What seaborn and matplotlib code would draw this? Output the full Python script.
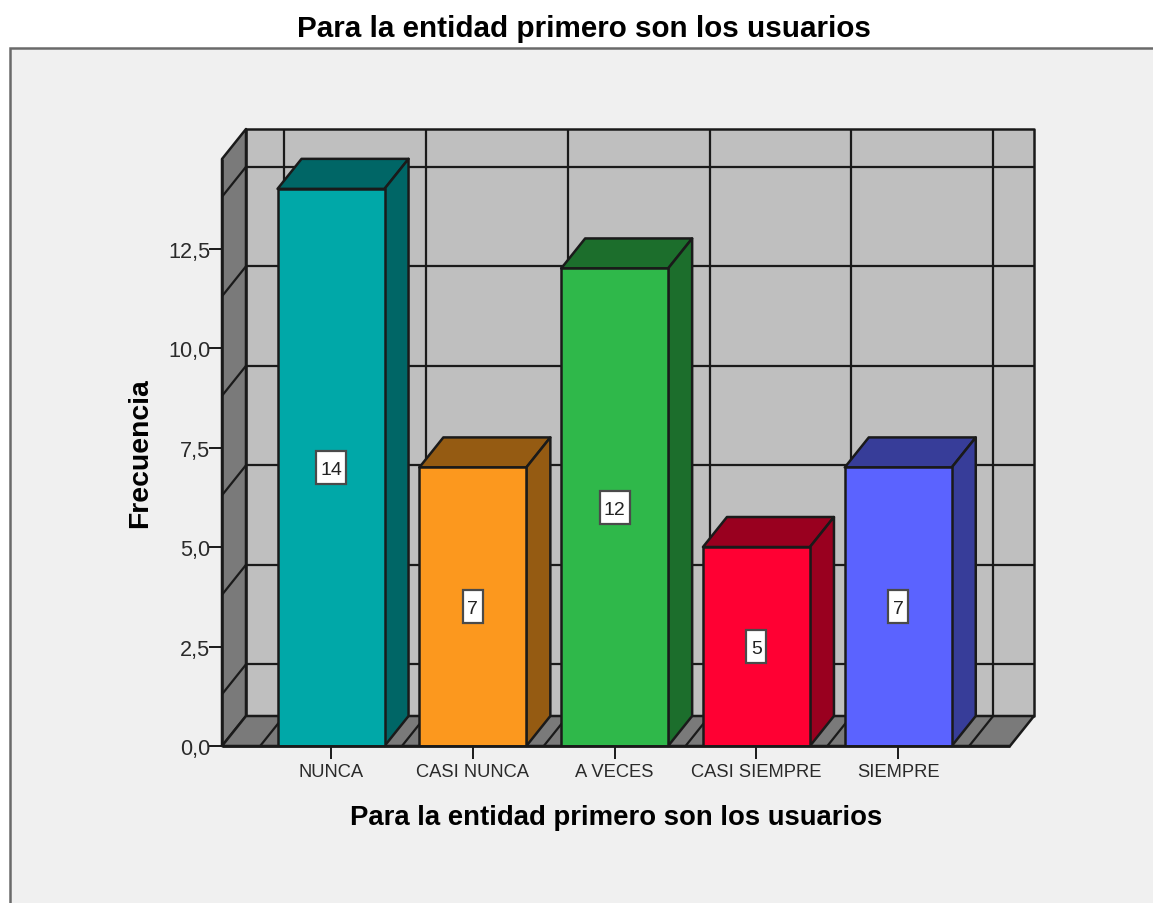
import matplotlib
matplotlib.use("Agg")
import matplotlib.pyplot as plt
from matplotlib.patches import Polygon, Rectangle
import pandas as pd
import seaborn as sns

categories = ["NUNCA", "CASI NUNCA", "A VECES", "CASI SIEMPRE", "SIEMPRE"]
frequencies = [14, 7, 12, 5, 7]
front_colors = ["#00A8A8", "#FC981E", "#2FB84A", "#FF0033", "#5B63FF"]
depth_colors = ["#006666", "#955B12", "#1C6E2C", "#99001F", "#373D99"]
y_ticks = [0, 2.5, 5, 7.5, 10, 12.5]
y_tick_labels = ["0,0", "2,5", "5,0", "7,5", "10,0", "12,5"]
wall_levels = [1.3, 3.8, 6.3, 8.8, 11.3, 13.8]
title_text = "Para la entidad primero son los usuarios"

W, H = 1153, 904
LINE = "#1a1a1a"

sns.set_theme(style="white")
plt.rcParams["font.family"] = ["Liberation Sans", "DejaVu Sans"]

fig = plt.figure(figsize=(W / 100, H / 100), dpi=100, facecolor="white")

# Chart panel: light grey, running off the right and bottom edges
fig.add_artist(Rectangle((10 / W, -0.02), 1.1, 1.02 - 49 / H, transform=fig.transFigure,
                         facecolor="#F0F0F0", edgecolor="#6a6a6a", linewidth=1.8, zorder=-1))

ax = fig.add_axes([222 / W, (H - 747) / H, 788 / W, 587 / H])
ax.patch.set_visible(False)
for spine in ax.spines.values():
    spine.set_visible(False)

df = pd.DataFrame({"categoria": categories, "frecuencia": frequencies})
sns.barplot(data=df, x="categoria", y="frecuencia", hue="categoria", palette=front_colors,
            order=categories, hue_order=categories, legend=False, width=107 / 141.8,
            saturation=1, edgecolor=LINE, linewidth=1.8, ax=ax)

x0, x1 = -0.769, 4.788
y1 = 14.75
ax.set_xlim(x0, x1)
ax.set_ylim(0, y1)
dx, dy = 24 / 141.8, 30 / 39.8
half = 107 / 141.8 / 2


def face(points, color, z):
    ax.add_patch(Polygon(points, closed=True, facecolor=color, edgecolor=LINE,
                         linewidth=1.8, clip_on=False, zorder=z, joinstyle="round"))


def segment(xs, ys, z=2, lw=1.6):
    ax.plot(xs, ys, color=LINE, linewidth=lw, clip_on=False, zorder=z, solid_capstyle="butt")


bars = list(ax.patches)

# Box walls and floor
face([(x0 + dx, dy), (x1 + dx, dy), (x1 + dx, y1 + dy), (x0 + dx, y1 + dy)], "#BFBFBF", 1)
face([(x0, 0), (x0, y1), (x0 + dx, y1 + dy), (x0 + dx, dy)], "#7A7A7A", 1)
face([(x0, 0), (x1, 0), (x1 + dx, dy), (x0 + dx, dy)], "#7A7A7A", 1)

# Wall grid
for level in wall_levels:
    segment([x0, x0 + dx], [level, level + dy])
    segment([x0 + dx, x1 + dx], [level + dy, level + dy])
for k in range(len(categories) + 1):
    edge = k - 0.5
    segment([edge, edge + dx], [0, dy])
    segment([edge + dx, edge + dx], [dy, y1 + dy])

# Bars: seaborn draws the front faces, the top and side faces follow from the same values
for i, (bar, value) in enumerate(zip(bars, frequencies)):
    bar.set_zorder(5)
    left, right = i - half, i + half
    face([(left, value), (right, value), (right + dx, value + dy), (left + dx, value + dy)],
         depth_colors[i], 4)
    face([(right, 0), (right, value), (right + dx, value + dy), (right + dx, dy)],
         depth_colors[i], 4)
    # Value label box at mid-height
    box_w = (20 if value < 10 else 30) / 141.8
    box_h = 33 / 39.8
    ax.add_patch(Rectangle((i - box_w / 2, value / 2 - box_h / 2), box_w, box_h,
                           facecolor="white", edgecolor="#4a4a4a", linewidth=1.6, zorder=6))
    ax.text(i, value / 2, str(value), ha="center", va="center_baseline", fontsize=14,
            color="#222222", zorder=7)

segment([x0, x1], [0, 0], z=8, lw=2)
segment([x0, x0], [0, y1], z=8, lw=1.8)

ax.set_yticks(y_ticks, y_tick_labels)
ax.set_xticks(range(len(categories)), categories)
ax.tick_params(axis="y", left=True, length=9.4, width=1.4, color=LINE, pad=-1,
               labelsize=15.6, labelcolor="#2a2a2a")
ax.tick_params(axis="x", bottom=True, length=9.4, width=1.4, color=LINE, pad=3,
               labelsize=13.2, labelcolor="#2a2a2a")
ax.set_xlabel(title_text, fontsize=19.8, fontweight="bold", color="black", labelpad=17)
ax.set_ylabel("Frecuencia", fontsize=20.4, fontweight="bold", color="black", labelpad=11)

fig.text(584 / W, 1 - 26 / H, title_text, ha="center", va="center_baseline", fontsize=21.3,
         fontweight="bold", color="black")

fig.savefig("out.png", dpi=100, facecolor="white")
